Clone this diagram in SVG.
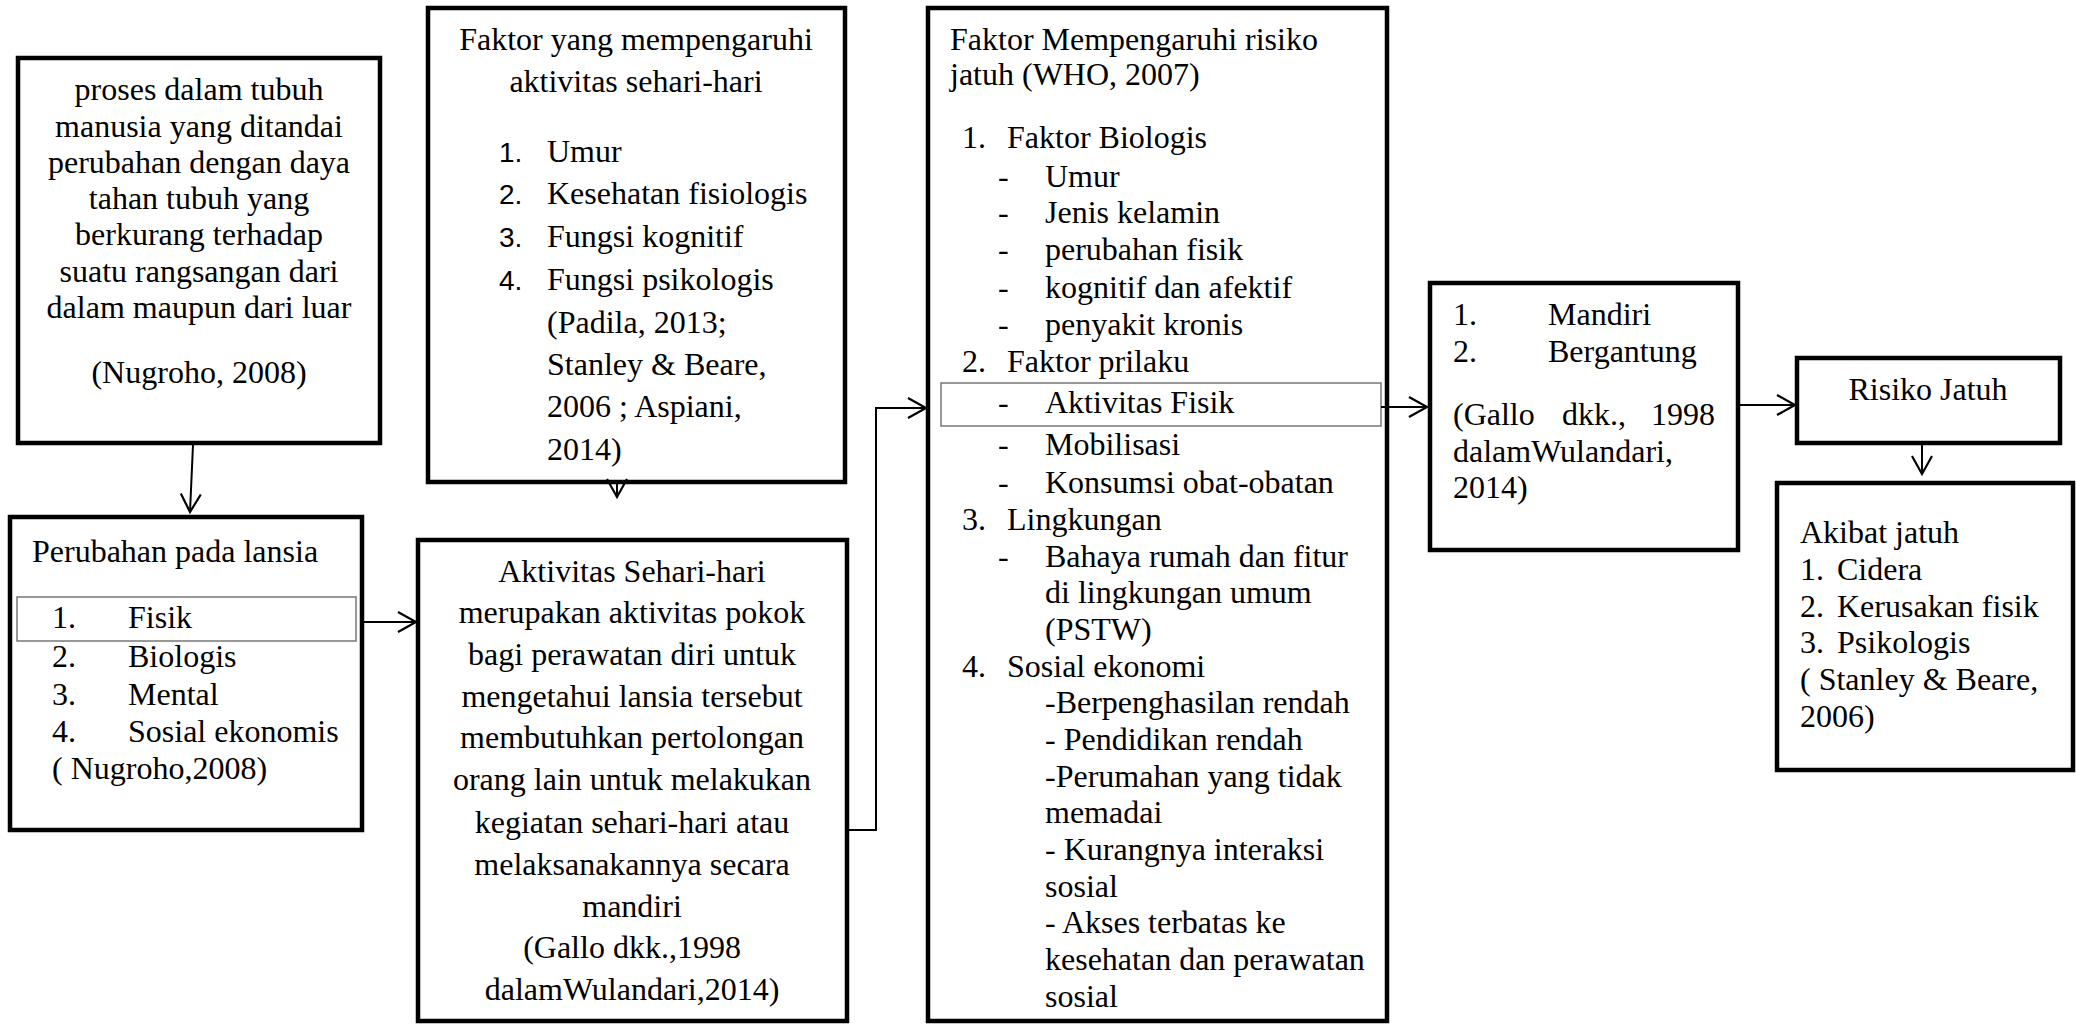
<svg xmlns="http://www.w3.org/2000/svg" width="2076" height="1025" viewBox="0 0 2076 1025">
<defs>
<marker id="arr" markerUnits="userSpaceOnUse" markerWidth="24" markerHeight="24" refX="20" refY="11" orient="auto">
<path d="M2,1 L20,11 L2,21" fill="none" stroke="#000" stroke-width="2.2"/>
</marker>
<style>
.box{fill:#fff;stroke:#000;stroke-width:4.5}
.inner{fill:none;stroke:#777;stroke-width:1.5}
.t{font-family:"Liberation Serif","Times New Roman",serif;font-size:32px;fill:#000}
.c{text-anchor:middle}
.s{font-family:"Liberation Sans",Arial,sans-serif;font-size:28px;fill:#000}
.con{fill:none;stroke:#000;stroke-width:2}
</style>
</defs>
<rect width="2076" height="1025" fill="#fff"/>

<g id="n1">
<rect class="box" x="18" y="58" width="362" height="385"/>
<text class="t c" x="199" y="100">proses dalam tubuh</text>
<text class="t c" x="199" y="137">manusia yang ditandai</text>
<text class="t c" x="199" y="173">perubahan dengan daya</text>
<text class="t c" x="199" y="209">tahan tubuh yang</text>
<text class="t c" x="199" y="245">berkurang terhadap</text>
<text class="t c" x="199" y="282">suatu rangsangan dari</text>
<text class="t c" x="199" y="318">dalam maupun dari luar</text>
<text class="t c" x="199" y="383">(Nugroho, 2008)</text>
</g>

<g id="n2">
<rect class="box" x="10" y="517" width="352" height="313"/>
<text class="t" x="32" y="562">Perubahan pada lansia</text>
<rect class="inner" x="17" y="597" width="339" height="44"/>
<text class="t" x="52" y="628">1.</text><text class="t" x="128" y="628">Fisik</text>
<text class="t" x="52" y="667">2.</text><text class="t" x="128" y="667">Biologis</text>
<text class="t" x="52" y="705">3.</text><text class="t" x="128" y="705">Mental</text>
<text class="t" x="52" y="742">4.</text><text class="t" x="128" y="742">Sosial ekonomis</text>
<text class="t" x="52" y="779">( Nugroho,2008)</text>
</g>

<g id="n3">
<rect class="box" x="428" y="8" width="417" height="474"/>
<text class="t c" x="636" y="50">Faktor yang mempengaruhi</text>
<text class="t c" x="636" y="92">aktivitas sehari-hari</text>
<text class="s" x="499" y="162">1.</text><text class="t" x="547" y="162">Umur</text>
<text class="s" x="499" y="204">2.</text><text class="t" x="547" y="204">Kesehatan fisiologis</text>
<text class="s" x="499" y="247">3.</text><text class="t" x="547" y="247">Fungsi kognitif</text>
<text class="s" x="499" y="290">4.</text><text class="t" x="547" y="290">Fungsi psikologis</text>
<text class="t" x="547" y="333">(Padila, 2013;</text>
<text class="t" x="547" y="375">Stanley &amp; Beare,</text>
<text class="t" x="547" y="417">2006 ; Aspiani,</text>
<text class="t" x="547" y="460">2014)</text>
</g>

<g id="n4">
<rect class="box" x="418" y="540" width="429" height="481"/>
<text class="t c" x="632" y="582">Aktivitas Sehari-hari</text>
<text class="t c" x="632" y="623">merupakan aktivitas pokok</text>
<text class="t c" x="632" y="665">bagi perawatan diri untuk</text>
<text class="t c" x="632" y="707">mengetahui lansia tersebut</text>
<text class="t c" x="632" y="748">membutuhkan pertolongan</text>
<text class="t c" x="632" y="790">orang lain untuk melakukan</text>
<text class="t c" x="632" y="833">kegiatan sehari-hari atau</text>
<text class="t c" x="632" y="875">melaksanakannya secara</text>
<text class="t c" x="632" y="917">mandiri</text>
<text class="t c" x="632" y="958">(Gallo dkk.,1998</text>
<text class="t c" x="632" y="1000">dalamWulandari,2014)</text>
</g>

<g id="n5">
<rect class="box" x="928" y="8" width="459" height="1013"/>
<text class="t" x="950" y="50">Faktor Mempengaruhi risiko</text>
<text class="t" x="950" y="85">jatuh (WHO, 2007)</text>
<text class="t" x="962" y="148">1.</text><text class="t" x="1007" y="148">Faktor Biologis</text>
<text class="t" x="998" y="187">-</text><text class="t" x="1045" y="187">Umur</text>
<text class="t" x="998" y="223">-</text><text class="t" x="1045" y="223">Jenis kelamin</text>
<text class="t" x="998" y="260">-</text><text class="t" x="1045" y="260">perubahan fisik</text>
<text class="t" x="998" y="298">-</text><text class="t" x="1045" y="298">kognitif dan afektif</text>
<text class="t" x="998" y="335">-</text><text class="t" x="1045" y="335">penyakit kronis</text>
<text class="t" x="962" y="372">2.</text><text class="t" x="1007" y="372">Faktor prilaku</text>
<rect class="inner" x="941" y="383" width="440" height="43"/>
<text class="t" x="998" y="413">-</text><text class="t" x="1045" y="413">Aktivitas Fisik</text>
<text class="t" x="998" y="455">-</text><text class="t" x="1045" y="455">Mobilisasi</text>
<text class="t" x="998" y="493">-</text><text class="t" x="1045" y="493">Konsumsi obat-obatan</text>
<text class="t" x="962" y="530">3.</text><text class="t" x="1007" y="530">Lingkungan</text>
<text class="t" x="998" y="567">-</text><text class="t" x="1045" y="567">Bahaya rumah dan fitur</text>
<text class="t" x="1045" y="603">di lingkungan umum</text>
<text class="t" x="1045" y="640">(PSTW)</text>
<text class="t" x="962" y="677">4.</text><text class="t" x="1007" y="677">Sosial ekonomi</text>
<text class="t" x="1045" y="713">-Berpenghasilan rendah</text>
<text class="t" x="1045" y="750">- Pendidikan rendah</text>
<text class="t" x="1045" y="787">-Perumahan yang tidak</text>
<text class="t" x="1045" y="823">memadai</text>
<text class="t" x="1045" y="860">- Kurangnya interaksi</text>
<text class="t" x="1045" y="897">sosial</text>
<text class="t" x="1045" y="933">- Akses terbatas ke</text>
<text class="t" x="1045" y="970">kesehatan dan perawatan</text>
<text class="t" x="1045" y="1007">sosial</text>
</g>

<g id="n6">
<rect class="box" x="1430" y="283" width="308" height="267"/>
<text class="t" x="1453" y="325">1.</text><text class="t" x="1548" y="325">Mandiri</text>
<text class="t" x="1453" y="362">2.</text><text class="t" x="1548" y="362">Bergantung</text>
<text class="t" x="1453" y="425">(Gallo</text><text class="t" x="1562" y="425">dkk.,</text><text class="t" x="1715" y="425" text-anchor="end">1998</text>
<text class="t" x="1453" y="462">dalamWulandari,</text>
<text class="t" x="1453" y="498">2014)</text>
</g>

<g id="n7">
<rect class="box" x="1797" y="358" width="263" height="85"/>
<text class="t c" x="1928" y="400">Risiko Jatuh</text>
</g>

<g id="n8">
<rect class="box" x="1777" y="483" width="296" height="287"/>
<text class="t" x="1800" y="543">Akibat jatuh</text>
<text class="t" x="1800" y="580">1.</text><text class="t" x="1837" y="580">Cidera</text>
<text class="t" x="1800" y="617">2.</text><text class="t" x="1837" y="617">Kerusakan fisik</text>
<text class="t" x="1800" y="653">3.</text><text class="t" x="1837" y="653">Psikologis</text>
<text class="t" x="1800" y="690">( Stanley &amp; Beare,</text>
<text class="t" x="1800" y="727">2006)</text>
</g>

<g id="connectors">
<path class="con" d="M193,445 L190,512" marker-end="url(#arr)"/>
<path class="con" d="M363,622 L416,622" marker-end="url(#arr)"/>
<path class="con" d="M617,484 L617,497" marker-end="url(#arr)"/>
<path class="con" d="M847,830 L876,830 L876,408 L926,408" marker-end="url(#arr)"/>
<path class="con" d="M1381,407 L1427,407" marker-end="url(#arr)"/>
<path class="con" d="M1738,405 L1795,405" marker-end="url(#arr)"/>
<path class="con" d="M1922,445 L1922,474" marker-end="url(#arr)"/>
</g>
</svg>
